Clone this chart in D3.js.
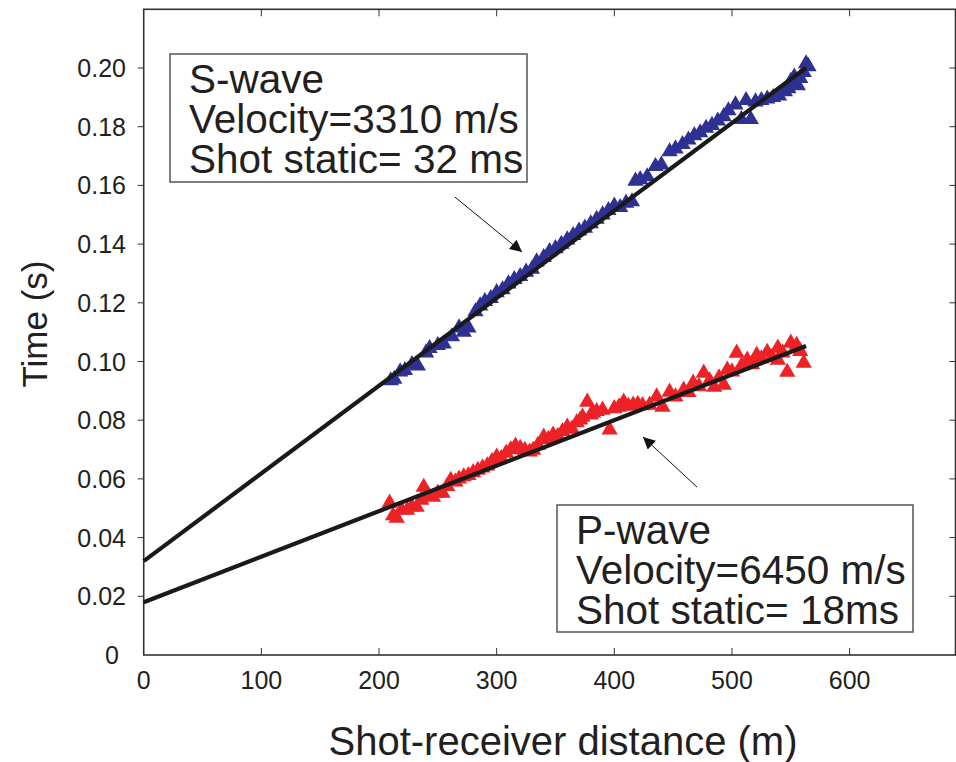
<!DOCTYPE html>
<html>
<head>
<meta charset="utf-8">
<script src="https://cdn.jsdelivr.net/npm/d3@7"></script>
<style>
  body { margin: 0; background: #fff; }
  svg { display: block; }
  text { font-family: "Liberation Sans", Arial, sans-serif; fill: #231f20; }
</style>
</head>
<body>
<div id="chart"></div>
<script>
// S-wave picks: [distance (m), time (s)]
const sWave = [
  [210,0.0935],[213,0.0940],[218,0.0965],[222,0.0970],[228,0.0990],[233,0.0985],[240,0.1030],
  [243,0.1045],[250,0.1055],[255,0.1060],[262,0.1085],[268,0.1115],[272,0.1100],[276,0.1115],
  [282,0.1170],[286,0.1190],[290,0.1205],[295,0.1215],[300,0.1235],[305,0.1245],[310,0.1265],
  [315,0.1280],[320,0.1290],[325,0.1305],[330,0.1315],[334,0.1340],[340,0.1355],[345,0.1375],
  [350,0.1385],[355,0.1400],[360,0.1415],[365,0.1430],[370,0.1445],[375,0.1455],[380,0.1470],
  [385,0.1485],[390,0.1500],[395,0.1515],[400,0.1530],[405,0.1525],[410,0.1540],[415,0.1545],
  [418,0.1615],[422,0.1620],[428,0.1630],[435,0.1665],[440,0.1670],[447,0.1715],[452,0.1725],
  [458,0.1740],[463,0.1755],[468,0.1770],[473,0.1780],[478,0.1795],[483,0.1805],[488,0.1820],
  [493,0.1835],[497,0.1855],[503,0.1875],[508,0.1825],[512,0.1890],[516,0.1825],[520,0.1885],
  [525,0.1890],[530,0.1895],[535,0.1900],[540,0.1905],[545,0.1920],[548,0.1930],[550,0.1955],
  [553,0.1970],[556,0.1940],[558,0.1965],[561,0.1985],[563,0.2015],[565,0.2005]
];

// P-wave picks: [distance (m), time (s)]
const pWave = [
  [209,0.0518],[212,0.0475],[215,0.0467],[219,0.0495],[224,0.0494],[228,0.0505],[232,0.0504],
  [236,0.0528],[238,0.0572],[242,0.0545],[246,0.0538],[250,0.0552],[254,0.0552],[258,0.0575],
  [261,0.0596],[265,0.0590],[268,0.0600],[272,0.0608],[276,0.0612],[280,0.0622],[284,0.0630],
  [288,0.0638],[292,0.0645],[296,0.0660],[300,0.0675],[304,0.0670],[308,0.0688],[312,0.0700],
  [316,0.0712],[320,0.0705],[324,0.0698],[328,0.0692],[331,0.0698],[335,0.0715],[340,0.0743],
  [344,0.0735],[348,0.0750],[352,0.0745],[356,0.0762],[360,0.0777],[364,0.0770],[368,0.0792],
  [371,0.0801],[373,0.0811],[377,0.0862],[380,0.0818],[382,0.0824],[385,0.0830],[390,0.0835],
  [396,0.0767],[400,0.0840],[404,0.0845],[408,0.0862],[412,0.0848],[416,0.0852],[420,0.0855],
  [424,0.0850],[430,0.0852],[436,0.0880],[441,0.0845],[447,0.0896],[452,0.0880],[459,0.0903],
  [463,0.0895],[467,0.0927],[472,0.0915],[476,0.0961],[481,0.0935],[485,0.0913],[489,0.0945],
  [493,0.0920],[496,0.0971],[500,0.0965],[504,0.1029],[508,0.0985],[513,0.1005],[517,0.0990],
  [521,0.1022],[525,0.1010],[530,0.1032],[534,0.1015],[539,0.1046],[539,0.1005],[543,0.1030],
  [547,0.0964],[550,0.1063],[555,0.1056],[558,0.1035],[561,0.0995]
];

// fitted lines: [distance, time] end points
const sFit = [[0,0.0320],[563,0.2001]];
const pFit = [[0,0.0180],[563,0.1053]];

const xTicks = [0,100,200,300,400,500,600];
const yTicks = [0,0.02,0.04,0.06,0.08,0.10,0.12,0.14,0.16,0.18,0.20];

const sText = ["S-wave","Velocity=3310 m/s","Shot static= 32 ms"];
const pText = ["P-wave","Velocity=6450 m/s","Shot static= 18ms"];

// arrows: [tail, tip] in data units
const sArrow = [[264.6,0.1560],[321.6,0.1373]];
const pArrow = [[470.3,0.0572],[424.4,0.0743]];

const width = 956, height = 762;
const plotL = 143.7, plotR = 955.5, plotT = 9.3, plotB = 655;

const svg = d3.select("#chart").append("svg")
  .attr("width", width).attr("height", height);

const x = d3.scaleLinear().domain([0,690]).range([plotL,plotR]);
const y = d3.scaleLinear().domain([0,0.22]).range([plotB,plotT]);

// frame
svg.append("rect")
  .attr("x", plotL).attr("y", plotT)
  .attr("width", plotR-plotL).attr("height", plotB-plotT)
  .attr("fill","none").attr("stroke","#333").attr("stroke-width",1.6);

// x ticks (inward, bottom and top)
svg.append("g").selectAll("line").data(xTicks.slice(1)).join("line")
  .attr("x1", d => x(d)).attr("x2", d => x(d))
  .attr("y1", plotB).attr("y2", plotB-7)
  .attr("stroke","#333").attr("stroke-width",1);
svg.append("g").selectAll("line").data(xTicks.slice(1)).join("line")
  .attr("x1", d => x(d)).attr("x2", d => x(d))
  .attr("y1", plotT).attr("y2", plotT+7)
  .attr("stroke","#333").attr("stroke-width",1);
svg.append("g").selectAll("text").data(xTicks).join("text")
  .attr("x", d => x(d)).attr("y", plotB+34)
  .attr("text-anchor","middle").attr("font-size",25)
  .text(d => d);

// y ticks (outward on left, inward on right)
svg.append("g").selectAll("line").data(yTicks.slice(1)).join("line")
  .attr("x1", plotL-6).attr("x2", plotL)
  .attr("y1", d => y(d)).attr("y2", d => y(d))
  .attr("stroke","#333").attr("stroke-width",1);
svg.append("g").selectAll("line").data(yTicks.slice(1)).join("line")
  .attr("x1", plotR-6).attr("x2", plotR)
  .attr("y1", d => y(d)).attr("y2", d => y(d))
  .attr("stroke","#333").attr("stroke-width",1);
svg.append("g").selectAll("text").data(yTicks).join("text")
  .attr("x", d => d === 0 ? 119 : 126).attr("y", d => y(d))
  .attr("dy","0.36em").attr("text-anchor","end").attr("font-size",25)
  .text(d => d === 0 ? "0" : d3.format(".2f")(d));

// axis titles
svg.append("text")
  .attr("transform","translate(47,324) rotate(-90)")
  .attr("text-anchor","middle").attr("font-size",35)
  .text("Time (s)");
svg.append("text")
  .attr("x", 563).attr("y", 755)
  .attr("text-anchor","middle").attr("font-size",40)
  .text("Shot-receiver distance (m)");

// triangles
const tri = d3.symbol().type(d3.symbolTriangle).size(115);
svg.append("g").selectAll("path").data(sWave).join("path")
  .attr("transform", d => `translate(${x(d[0])},${y(d[1])})`)
  .attr("d", tri).attr("fill","#2e3192");
svg.append("g").selectAll("path").data(pWave).join("path")
  .attr("transform", d => `translate(${x(d[0])},${y(d[1])})`)
  .attr("d", tri).attr("fill","#ec2227");

// fitted lines
const line = d3.line().x(d => x(d[0])).y(d => y(d[1]));
[sFit, pFit].forEach(f => {
  svg.append("path").datum(f)
    .attr("d", line).attr("fill","none")
    .attr("stroke","#1a1a1a").attr("stroke-width",4.2);
});

// arrows
svg.append("defs").append("marker")
  .attr("id","ah").attr("viewBox","0 0 10 10")
  .attr("refX",10).attr("refY",5)
  .attr("markerWidth",16).attr("markerHeight",12)
  .attr("markerUnits","userSpaceOnUse")
  .attr("orient","auto")
  .append("path").attr("d","M0,0L10,5L0,10z").attr("fill","#111");
[sArrow, pArrow].forEach(a => {
  svg.append("path").datum(a)
    .attr("d", line).attr("stroke","#111").attr("stroke-width",1)
    .attr("marker-end","url(#ah)");
});

// annotation boxes
function box(bx, by, bw, bh, lines) {
  svg.append("rect").attr("x",bx).attr("y",by).attr("width",bw).attr("height",bh)
    .attr("fill","#fff").attr("stroke","#555").attr("stroke-width",1.5);
  svg.append("g").selectAll("text").data(lines).join("text")
    .attr("x", bx+19).attr("y", (d,i) => by+39+i*40)
    .attr("font-size",40.5)
    .text(d => d);
}
box(170, 54, 357, 128, sText);
box(557, 505, 356, 127, pText);
</script>
</body>
</html>
